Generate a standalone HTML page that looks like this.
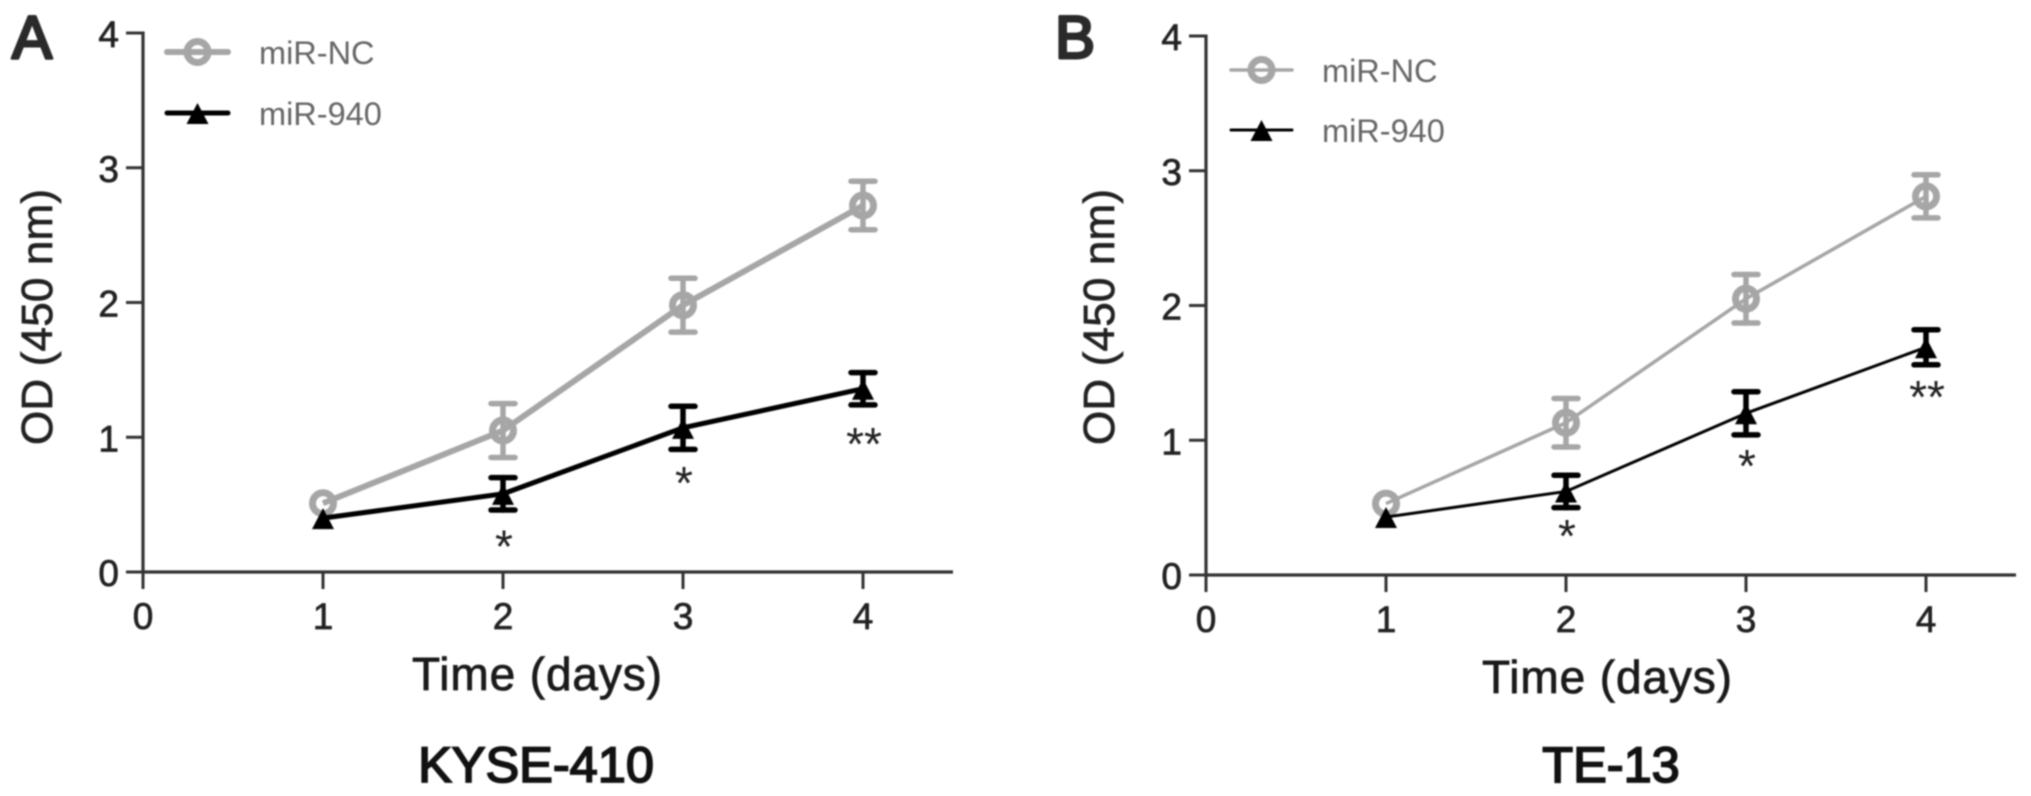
<!DOCTYPE html>
<html lang="en">
<head>
<meta charset="utf-8">
<title>OD (450 nm) over time: KYSE-410 and TE-13</title>
<style>
  html, body { margin: 0; padding: 0; background: #fff; width: 2031px; height: 796px; overflow: hidden; }
  svg { display: block; filter: blur(0.7px); }
  text { font-family: "Liberation Sans", Arial, sans-serif; }
</style>
</head>
<body>
<svg id="figure" xmlns="http://www.w3.org/2000/svg" width="2031" height="796" viewBox="0 0 2031 796">
  <rect x="0" y="0" width="2031" height="796" fill="#fff"/>
  <g id="panel-a"></g>
  <g id="panel-b"></g>
</svg>
<script>
const xTickValues = [0, 1, 2, 3, 4];
const yTickValues = [0, 1, 2, 3, 4];
const days = [1, 2, 3, 4];
const seriesNames = ["miR-NC", "miR-940"];

const panelANc = [0.51, 1.05, 1.98, 2.72];
const panelANcErr = [0, 0.2, 0.2, 0.18];
const panelA940 = [0.4, 0.58, 1.07, 1.36];
const panelA940Err = [0, 0.12, 0.16, 0.12];
const panelAStars = ["", "*", "*", "**"];
const panelAStarLevels = [0, 0.25, 0.72, 1.01];

const panelBNc = [0.53, 1.13, 2.05, 2.81];
const panelBNcErr = [0, 0.18, 0.18, 0.16];
const panelB940 = [0.43, 0.62, 1.2, 1.69];
const panelB940Err = [0, 0.12, 0.16, 0.13];
const panelBStars = ["", "*", "*", "**"];
const panelBStarLevels = [0, 0.35, 0.87, 1.38];

const NS = "http://www.w3.org/2000/svg";
function make(parent, tag, attrs, text) {
  const el = document.createElementNS(NS, tag);
  for (const k in attrs) el.setAttribute(k, attrs[k]);
  if (text !== undefined) el.textContent = text;
  parent.appendChild(el);
  return el;
}

function drawPanel(root, cfg) {
  const sx = v => cfg.x0 + v * cfg.xUnit;
  const sy = v => cfg.y0 - v * cfg.yUnit;
  const axisColor = "#333";

  // Panel letter
  const letter = make(root, "text", { x: cfg.letterX, y: 58, "font-size": 60, fill: "#2a2a2a", stroke: "#2a2a2a", "stroke-width": 3, "stroke-linejoin": "round" }, cfg.letter);
  
  

  // Axes
  const yAxis = make(root, "line", { x1: sx(0), x2: sx(0), y1: sy(4) - 1.5, y2: sy(0) + 1.5, stroke: axisColor, "stroke-width": 3.2 });
  
  
  const xAxis = make(root, "line", { x1: sx(0), x2: sx(4.5), y1: sy(0), y2: sy(0), stroke: axisColor, "stroke-width": 3.2 });
  
  

  yTickValues.forEach(v => {
    const tick = make(root, "line", { x1: sx(0) - 17, x2: sx(0), y1: sy(v), y2: sy(v), stroke: axisColor, "stroke-width": 3 });
    
    
    const label = make(root, "text", { x: sx(0) - 24, y: sy(v) + 14, "font-size": 37, "text-anchor": "end", fill: "#222", stroke: "#222", "stroke-width": 0.7 }, String(v));
    
    
  });
  xTickValues.forEach(v => {
    const tick = make(root, "line", { x1: sx(v), x2: sx(v), y1: sy(0), y2: sy(0) + 17, stroke: axisColor, "stroke-width": 3 });
    
    
    const label = make(root, "text", { x: sx(v), y: sy(0) + 57, "font-size": 37, "text-anchor": "middle", fill: "#222", stroke: "#222", "stroke-width": 0.7 }, String(v));
    
    
  });

  // Axis titles
  const yTitle = make(root, "text", {
    transform: "translate(" + cfg.yTitleX + ",317) rotate(-90)",
    "font-size": 44, "text-anchor": "middle", fill: "#222", stroke: "#222", "stroke-width": 0.7, textLength: 256, lengthAdjust: "spacing"
  }, "OD (450 nm)");
  
  
  const xTitle = make(root, "text", {
    x: cfg.xTitleX, y: sy(0) + 118, "font-size": 46, "text-anchor": "middle", fill: "#1a1a1a", stroke: "#1a1a1a", "stroke-width": 0.8, textLength: 250, lengthAdjust: "spacing"
  }, "Time (days)");
  
  
  const title = make(root, "text", {
    x: cfg.xTitleX + cfg.titleShift, y: 782, "font-size": 50.5, "text-anchor": "middle", fill: "#111", stroke: "#111", "stroke-width": 1.8
  }, cfg.title);
  
  

  // Series: grey open circles
  drawSeries(root, cfg.nc, cfg.ncErr, "#a6a6a6", cfg.ncWidth, "circle", sx, sy);
  // Series: black triangles
  drawSeries(root, cfg.mir, cfg.mirErr, "#000", cfg.mirWidth, "triangle", sx, sy);

  // Significance stars
  cfg.stars.forEach((s, i) => {
    if (!s) return;
    const star = make(root, "text", {
      x: sx(days[i]) + 1, y: sy(cfg.starLevels[i]) + 24, "font-size": 46, "text-anchor": "middle", fill: "#222"
    }, s);
    
    
  });

  // Legend
  seriesNames.forEach((name, i) => {
    const ly = cfg.legendY[i];
    const isNc = i === 0;
    const color = isNc ? "#a6a6a6" : "#000";
    const w = isNc ? cfg.ncWidth : cfg.mirWidth;
    const g = make(root, "g", {});
    
    
    make(g, "line", { x1: cfg.legendX, x2: cfg.legendX + 61, y1: ly, y2: ly, stroke: color, "stroke-width": w, "stroke-linecap": "round" });
    drawMarker(g, isNc ? "circle" : "triangle", cfg.legendX + 30.5, ly, color);
    make(g, "text", { x: cfg.legendTextX, y: ly + 12, "font-size": 32.5, fill: "#666" }, name);
  });
}

function drawMarker(parent, kind, x, y, color) {
  if (kind === "circle") {
    return make(parent, "circle", { cx: x, cy: y, r: 10.5, fill: "none", stroke: color, "stroke-width": 7 });
  }
  return make(parent, "polygon", {
    points: (x - 11) + "," + (y + 11) + " " + (x + 11) + "," + (y + 11) + " " + x + "," + (y - 10),
    fill: color
  });
}

function drawSeries(root, values, errs, color, width, kind, sx, sy) {
  const g = make(root, "g", {});
  
  
  const pts = values.map((v, i) => sx(days[i]) + "," + sy(v)).join(" ");
  const line = make(g, "polyline", { points: pts, fill: "none", stroke: color, "stroke-width": width });
  
  
  values.forEach((v, i) => {
    const x = sx(days[i]);
    if (errs[i] > 0) {
      const top = sy(v + errs[i]);
      const bottom = sy(v - errs[i]);
      const bar = make(g, "g", { stroke: color, "stroke-width": 5.5, "stroke-linecap": "round" });
      
      
      make(bar, "line", { x1: x, x2: x, y1: top, y2: bottom });
      make(bar, "line", { x1: x - 12, x2: x + 12, y1: top, y2: top });
      make(bar, "line", { x1: x - 12, x2: x + 12, y1: bottom, y2: bottom });
    }
    const marker = drawMarker(g, kind, x, sy(v), color);
    
    
  });
}

drawPanel(document.getElementById("panel-a"), {
  letter: "A", letterX: 12, title: "KYSE-410", titleShift: -1,
  x0: 143, xUnit: 180, y0: 572, yUnit: 134.75,
  yTitleX: 52, xTitleX: 537,
  nc: panelANc, ncErr: panelANcErr, mir: panelA940, mirErr: panelA940Err,
  ncWidth: 6, mirWidth: 5,
  stars: panelAStars, starLevels: panelAStarLevels,
  legendX: 167, legendTextX: 259, legendY: [52, 113]
});
drawPanel(document.getElementById("panel-b"), {
  letter: "B", letterX: 1055, title: "TE-13", titleShift: 4,
  x0: 1206, xUnit: 180, y0: 575, yUnit: 134.75,
  yTitleX: 1114, xTitleX: 1607,
  nc: panelBNc, ncErr: panelBNcErr, mir: panelB940, mirErr: panelB940Err,
  ncWidth: 3.5, mirWidth: 3,
  stars: panelBStars, starLevels: panelBStarLevels,
  legendX: 1231, legendTextX: 1322, legendY: [70, 130]
});
</script>
</body>
</html>
